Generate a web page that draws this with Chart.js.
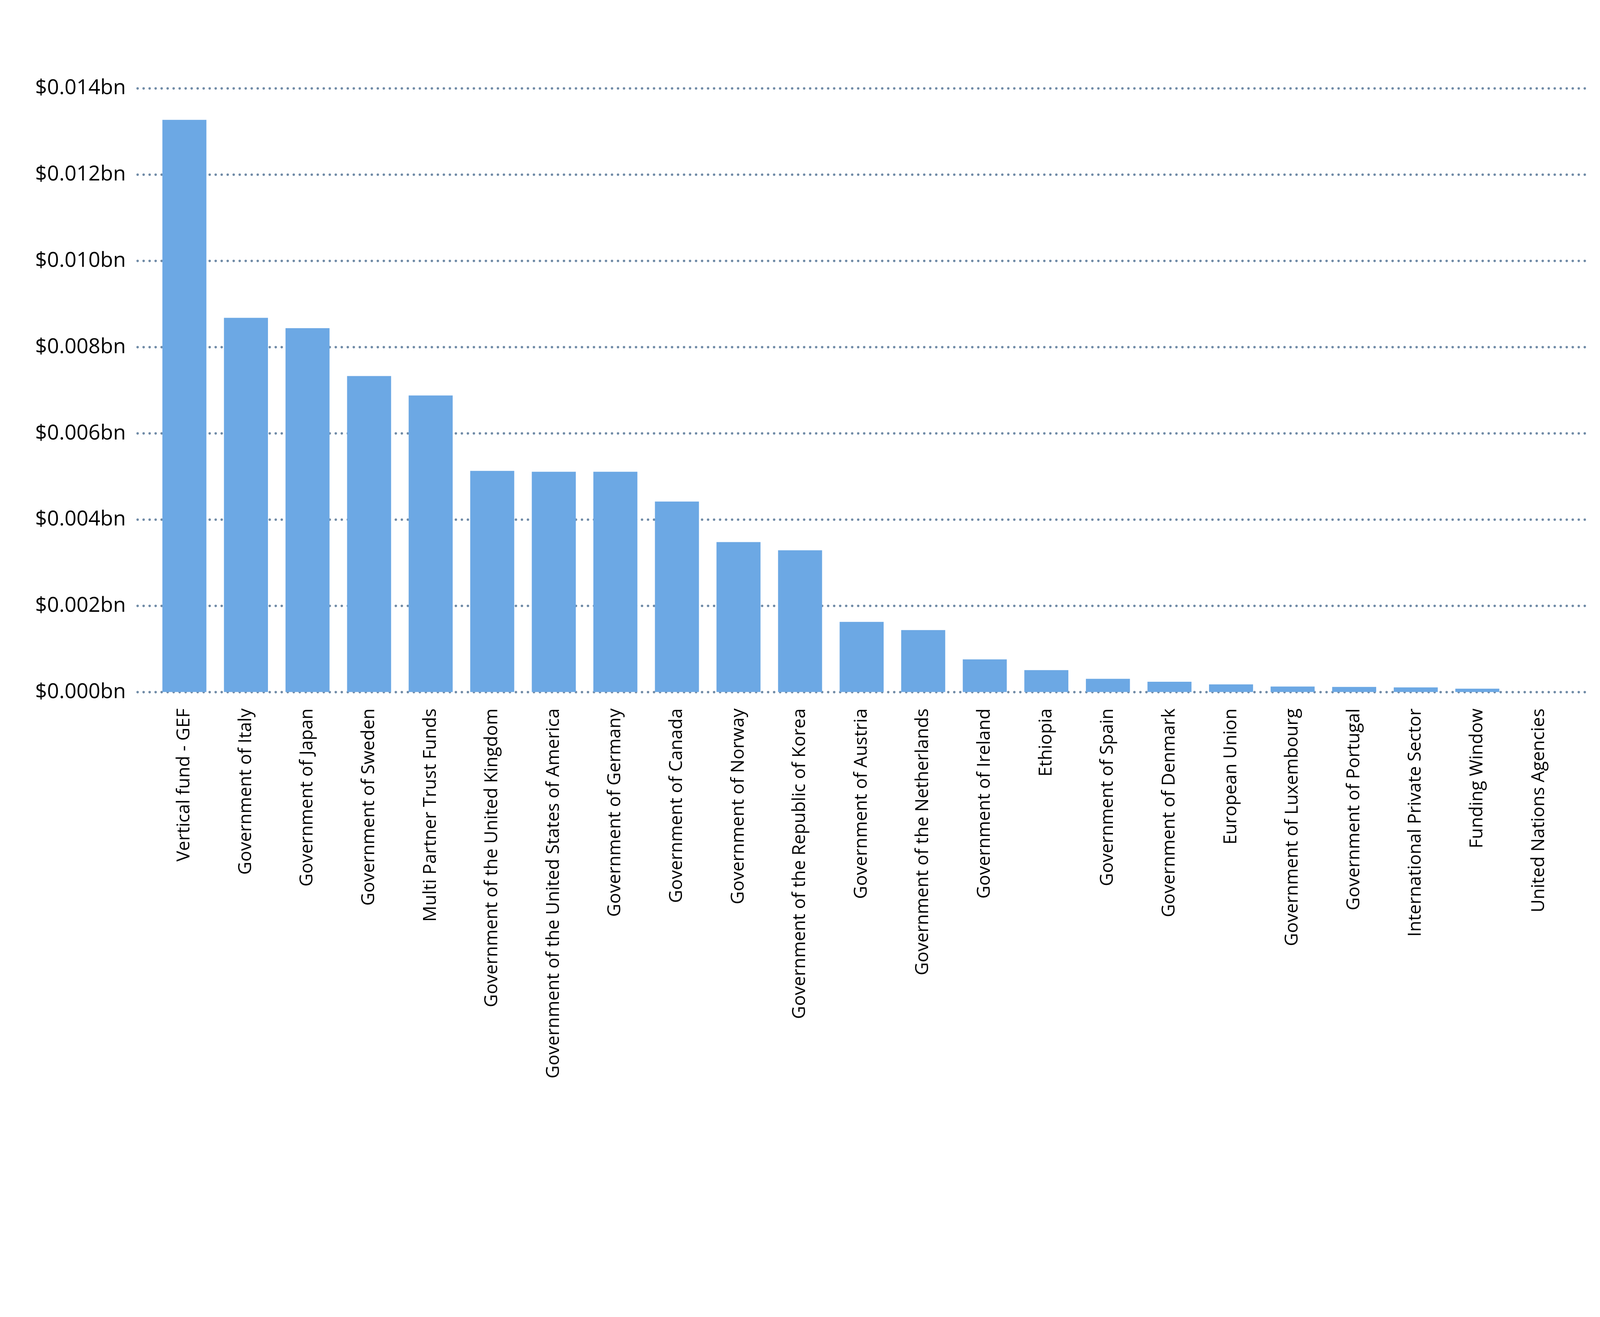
<!DOCTYPE html>
<html>
<head>
<meta charset="utf-8">
<script src="https://cdn.jsdelivr.net/npm/chart.js@4/dist/chart.umd.min.js"></script>
<style>
html,body{margin:0;padding:0;background:#fff;overflow:hidden;}
#wrap{position:absolute;left:0;top:0;width:100vw;}
</style>
</head>
<body>
<div id="wrap"><canvas id="c"></canvas></div>
<script>
const categories = [
  "Vertical fund - GEF",
  "Government of Italy",
  "Government of Japan",
  "Government of Sweden",
  "Multi Partner Trust Funds",
  "Government of the United Kingdom",
  "Government of the United States of America",
  "Government of Germany",
  "Government of Canada",
  "Government of Norway",
  "Government of the Republic of Korea",
  "Government of Austria",
  "Government of the Netherlands",
  "Government of Ireland",
  "Ethiopia",
  "Government of Spain",
  "Government of Denmark",
  "European Union",
  "Government of Luxembourg",
  "Government of Portugal",
  "International Private Sector",
  "Funding Window",
  "United Nations Agencies"
];
const values = [
  0.01327, 0.00868, 0.00844, 0.00733, 0.00688, 0.00513, 0.00511, 0.00511,
  0.00442, 0.00348, 0.00329, 0.00163, 0.00144, 0.00076, 0.00051, 0.00031,
  0.00024, 0.00018, 0.00013, 0.00012, 0.00011, 0.00008, 0
];
const yTicks = [0, 0.002, 0.004, 0.006, 0.008, 0.010, 0.012, 0.014];

const s = window.innerWidth / 4906;
document.getElementById('wrap').style.height = (3371 * s) + 'px';

const dottedGrid = {
  id: 'dottedGrid',
  beforeDatasetsDraw(chart) {
    const ctx = chart.ctx;
    const y = chart.scales.y;
    const area = chart.chartArea;
    ctx.save();
    ctx.strokeStyle = '#6f8aa6';
    ctx.lineWidth = 7.5 * s;
    ctx.lineCap = 'round';
    ctx.setLineDash([0.01, 18.4 * s]);
    y.ticks.forEach(t => {
      const py = y.getPixelForValue(t.value);
      ctx.beginPath();
      ctx.moveTo(area.left - 49 * s, py);
      ctx.lineTo(area.right + 49 * s, py);
      ctx.stroke();
    });
    ctx.restore();
  }
};

new Chart(document.getElementById('c'), {
  type: 'bar',
  data: {
    labels: categories,
    datasets: [{
      data: values,
      backgroundColor: '#6ca8e4',
      borderWidth: 0,
      barPercentage: 0.715,
      categoryPercentage: 1.0
    }]
  },
  options: {
    responsive: true,
    maintainAspectRatio: false,
    animation: false,
    layout: { padding: { top: 271 * s, right: 93 * s, left: 0, bottom: 0 } },
    plugins: { legend: { display: false }, tooltip: { enabled: false } },
    scales: {
      x: {
        grid: { display: false, drawTicks: false },
        border: { display: false },
        afterFit(scale) { scale.height = (3371 - 2122) * s; },
        ticks: {
          color: '#000',
          font: { family: 'Open Sans', size: 55 * s },
          minRotation: 90,
          maxRotation: 90,
          autoSkip: false,
          padding: 50 * s
        }
      },
      y: {
        min: 0,
        max: 0.014,
        afterBuildTicks(scale) { scale.ticks = yTicks.map(v => ({ value: v })); },
        afterFit(scale) { scale.width = 471 * s; },
        grid: { display: false, drawTicks: false },
        border: { display: false },
        ticks: {
          color: '#000',
          font: { family: 'Open Sans', size: 64 * s },
          padding: 85 * s,
          callback: v => '$' + Number(v).toFixed(3) + 'bn'
        }
      }
    }
  },
  plugins: [dottedGrid]
});
</script>
</body>
</html>
